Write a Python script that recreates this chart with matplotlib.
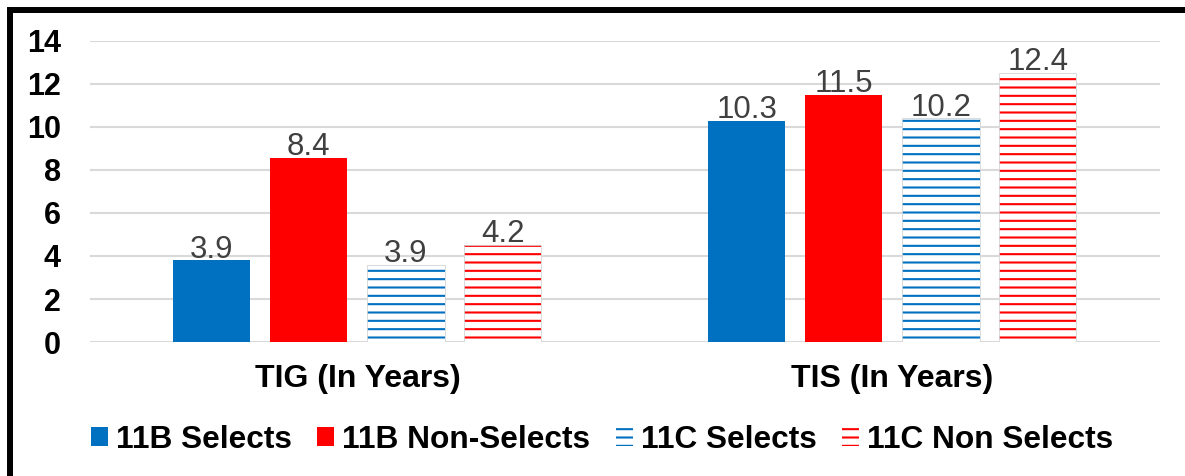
import matplotlib
matplotlib.use("Agg")
import matplotlib.pyplot as plt
from matplotlib.patches import Rectangle
import numpy as np

plt.rcParams['font.family'] = ['Liberation Sans', 'DejaVu Sans']
plt.rcParams['hatch.linewidth'] = 1.5

# --- data ---
categories = ["TIG (In Years)", "TIS (In Years)"]
series_names = ["11B Selects", "11B Non-Selects", "11C Selects", "11C Non Selects"]

# bar heights as drawn
b_sel = [3.8, 10.3]
b_non = [8.55, 11.5]
c_sel = [3.6, 10.4]
c_non = [4.5, 12.5]

# data labels as printed
b_sel_lbl = ["3.9", "10.3"]
b_non_lbl = ["8.4", "11.5"]
c_sel_lbl = ["3.9", "10.2"]
c_non_lbl = ["4.2", "12.4"]

yticks = [0, 2, 4, 6, 8, 10, 12, 14]

BLUE = "#0070C0"
RED = "#FF0000"

fig = plt.figure(figsize=(11.85, 4.76), dpi=100)
ax = fig.add_axes([0.076, 0.2815, 0.903, 0.6324])

x = np.arange(len(categories))
width = 0.144
offsets = [-0.2725, -0.0915, 0.0905, 0.2715]

series = [
    (b_sel, b_sel_lbl, BLUE, False),
    (b_non, b_non_lbl, RED, False),
    (c_sel, c_sel_lbl, BLUE, True),
    (c_non, c_non_lbl, RED, True),
]

handles = []
for (vals, lbls, col, hatched), off, name in zip(series, offsets, series_names):
    if hatched:
        bars = ax.bar(x + off, vals, width, facecolor="white", edgecolor=col,
                      hatch="--", linewidth=0, label=name, zorder=3)
        # thin grey outline like the original
        ax.bar(x + off, vals, width, fill=False, edgecolor="#d4d4d4",
               linewidth=0.6, zorder=4)
    else:
        bars = ax.bar(x + off, vals, width, color=col, linewidth=0,
                      label=name, zorder=3)
    handles.append(bars)
    for xi, v, t in zip(x + off, vals, lbls):
        ax.annotate(t, (xi, v), xytext=(0, 2), textcoords="offset points",
                    ha="center", va="baseline", fontsize=22.5, color="#404040",
                    zorder=5)

ax.set_xlim(-0.5, 1.5)
ax.set_ylim(0, 14)
ax.set_yticks(yticks)
ax.set_yticklabels([str(t) for t in yticks], fontsize=22, fontweight="bold")
ax.set_xticks(x)
ax.set_xticklabels(categories, fontsize=23, fontweight="bold")
ax.tick_params(axis="y", length=0, pad=21)
ax.tick_params(axis="x", length=0, pad=16)

ax.grid(axis="y", color="#d9d9d9", linewidth=1.5, zorder=0)
ax.set_axisbelow(True)
for s in ax.spines.values():
    s.set_visible(False)

leg = fig.legend(handles=handles, labels=series_names, loc="center",
                 bbox_to_anchor=(0.508, 0.076), ncol=4, frameon=False,
                 prop={"size": 22.8, "weight": "bold"},
                 handlelength=0.54, handleheight=0.54, handletextpad=0.25,
                 columnspacing=0.8, borderaxespad=0)

# black frame, only top and left edges fall inside the image
fig.patches.append(Rectangle((9.5 / 1185, -0.5), 2.0, 1.5 - 10 / 476,
                             transform=fig.transFigure, fill=False,
                             edgecolor="black", linewidth=4.3, clip_on=False))

fig.savefig("out.png", dpi=100)
